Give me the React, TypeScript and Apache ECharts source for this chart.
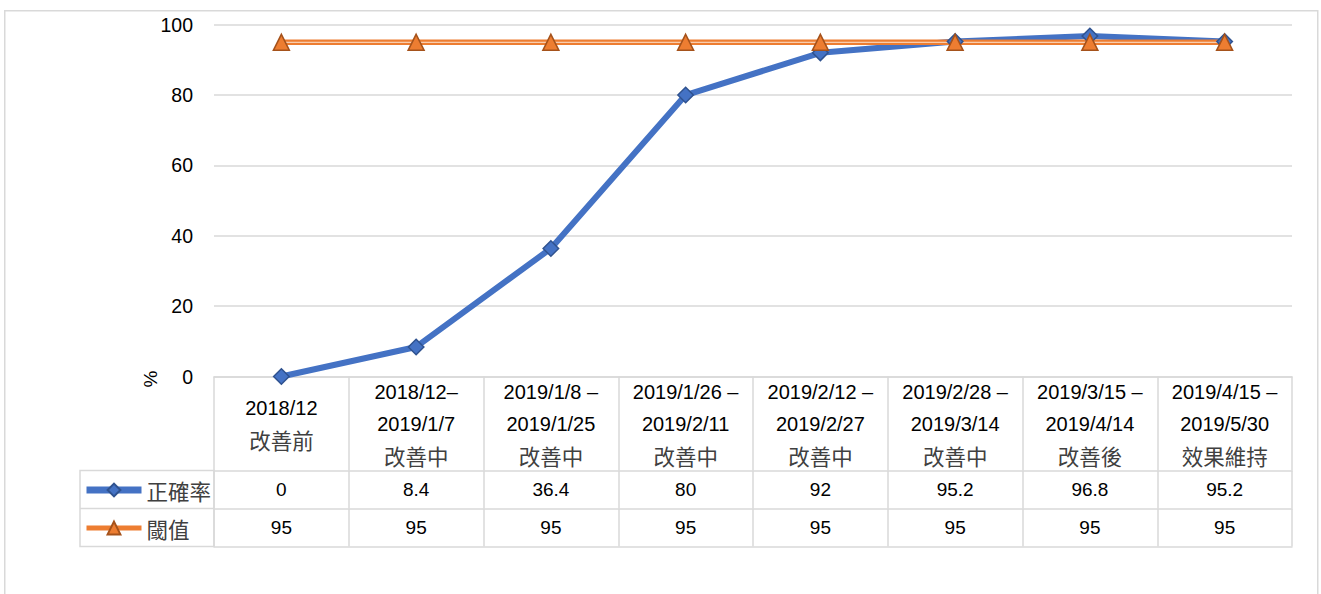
import React, { useEffect, useRef } from "react";
import * as echarts from "echarts";

// ---- data ----
const periods = [
  "2018/12",
  "2018/12–\n2019/1/7",
  "2019/1/8 –\n2019/1/25",
  "2019/1/26 –\n2019/2/11",
  "2019/2/12 –\n2019/2/27",
  "2019/2/28 –\n2019/3/14",
  "2019/3/15 –\n2019/4/14",
  "2019/4/15 –\n2019/5/30",
];
const phases = ["改善前", "改善中", "改善中", "改善中", "改善中", "改善中", "改善後", "效果維持"];
const accuracy = [0, 8.4, 36.4, 80, 92, 95.2, 96.8, 95.2];
const threshold = [95, 95, 95, 95, 95, 95, 95, 95];
const seriesNames = ["正確率", "閾值"];
const yMin = 0;
const yMax = 100;
const yInterval = 20;
const axisTitle = "%";

// ---- styles ----
const LATIN = "'Liberation Sans', Arial, sans-serif";
const CJK = "'Noto Sans CJK TC', 'Noto Sans CJK SC', sans-serif";
const GRID = "#d9d9d9";
const BLUE = "#4472C4";
const ORANGE = "#ED7D31";

export default function App() {
  const ref = useRef<HTMLDivElement>(null);

  useEffect(() => {
    if (!ref.current) return;
    const chart = echarts.init(ref.current, null, { renderer: "svg" });
    const categories = periods.map((p, i) => `${p}\n${phases[i]}`);
    const lineStyle = { color: GRID, width: 1.5 };

    const tableAxis = (data: string[], offset: number) => ({
      type: "category",
      data,
      position: "bottom",
      offset,
      boundaryGap: true,
      axisLine: { show: true, lineStyle },
      axisTick: { show: true, length: 38, interval: 0, lineStyle },
      axisLabel: {
        interval: 0,
        margin: 19,
        verticalAlign: "middle",
        fontFamily: LATIN,
        fontSize: 19,
        color: "#000",
      },
      splitLine: { show: false },
    });

    chart.setOption({
      animation: false,
      grid: { left: 214, right: 29, top: 24.7, bottom: 217.5, containLabel: false },
      legend: {
        orient: "vertical",
        left: 83,
        top: 478,
        padding: 0,
        itemWidth: 55,
        itemHeight: 16,
        itemGap: 14,
        selectedMode: false,
        data: [
          { name: seriesNames[0], lineStyle: { color: BLUE, width: 7 } },
          { name: seriesNames[1], lineStyle: { color: ORANGE, width: 5 } },
        ],
        textStyle: { fontFamily: CJK, fontSize: 21.5, color: "#404040", lineHeight: 24 },
      },
      xAxis: [
        {
          type: "category",
          data: categories,
          position: "bottom",
          boundaryGap: true,
          axisLine: { show: true, lineStyle },
          axisTick: { show: true, length: 94, interval: 0, lineStyle },
          axisLabel: {
            interval: 0,
            margin: 47,
            verticalAlign: "middle",
            formatter: (v: string) => {
              const lines = v.split("\n");
              const phase = lines.pop();
              return [...lines.map((l) => `{d|${l}}`), `{c|${phase}}`].join("\n");
            },
            rich: {
              d: { fontFamily: LATIN, fontSize: 20, lineHeight: 31.5, color: "#000" },
              c: { fontFamily: CJK, fontSize: 21.5, lineHeight: 31.5, color: "#404040" },
            },
          },
          splitLine: { show: false },
        },
        tableAxis(accuracy.map(String), 94),
        tableAxis(threshold.map(String), 132),
        {
          type: "category",
          data: categories,
          position: "bottom",
          offset: 170,
          axisLine: { show: true, lineStyle },
          axisTick: { show: false },
          axisLabel: { show: false },
          splitLine: { show: false },
        },
      ],
      yAxis: {
        type: "value",
        min: yMin,
        max: yMax,
        interval: yInterval,
        axisLine: { show: false },
        axisTick: { show: false },
        axisLabel: { margin: 21, fontFamily: LATIN, fontSize: 19.5, color: "#000" },
        splitLine: { lineStyle: { color: GRID, width: 1.5 } },
      },
      series: [
        {
          name: seriesNames[0],
          type: "line",
          data: accuracy,
          symbol: "diamond",
          symbolSize: 15.5,
          showSymbol: true,
          lineStyle: { color: BLUE, width: 6 },
          itemStyle: { color: BLUE, borderColor: "#2F528F", borderWidth: 1.5 },
          emphasis: { disabled: true },
        },
        {
          name: seriesNames[1] + "_base",
          type: "line",
          data: threshold,
          symbol: "none",
          silent: true,
          lineStyle: { color: ORANGE, width: 5.5 },
          emphasis: { disabled: true },
        },
        {
          name: seriesNames[1],
          type: "line",
          data: threshold,
          symbol: "triangle",
          symbolSize: 16,
          showSymbol: true,
          lineStyle: { color: "#FCE3D2", width: 1 },
          itemStyle: { color: ORANGE, borderColor: "#A5521B", borderWidth: 1.5 },
          emphasis: { disabled: true },
        },
      ],
      graphic: [
        {
          type: "rect",
          silent: true,
          shape: { x: 4.75, y: 10.75, width: 1313, height: 600 },
          style: { fill: "none", stroke: GRID, lineWidth: 1.5 },
        },
        {
          type: "rect",
          silent: true,
          shape: { x: 80, y: 470.5, width: 134, height: 76 },
          style: { fill: "none", stroke: GRID, lineWidth: 1.5 },
        },
        {
          type: "line",
          silent: true,
          shape: { x1: 80, y1: 508.5, x2: 214, y2: 508.5 },
          style: { stroke: GRID, lineWidth: 1.5 },
        },
        {
          type: "text",
          silent: true,
          x: 150,
          y: 379,
          rotation: Math.PI / 2,
          style: {
            text: axisTitle,
            fontFamily: LATIN,
            fontSize: 19,
            fill: "#000",
            align: "center",
            verticalAlign: "middle",
          },
        },
      ],
    });

    return () => chart.dispose();
  }, []);

  return (
    <div
      ref={ref}
      style={{ position: "absolute", left: 0, top: 0, width: 1321, height: 594, background: "#fff" }}
    />
  );
}
